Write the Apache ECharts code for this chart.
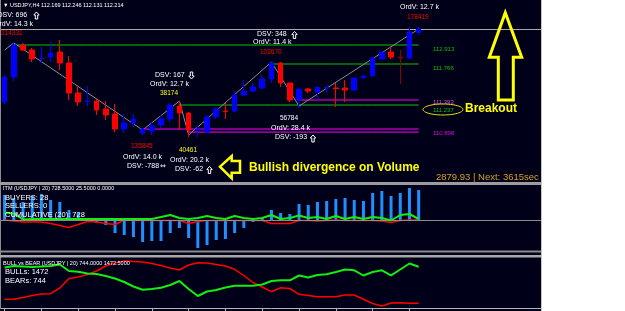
<!DOCTYPE html>
<html><head><meta charset="utf-8">
<script src="https://cdn.jsdelivr.net/npm/echarts@6/dist/echarts.min.js"></script>
<style>html,body{margin:0;padding:0;background:#fff}#c{width:625px;height:311px}</style>
</head><body><div id="c"></div>
<script>
// ---------- DATA ----------
const candleOpen  = [111.279,111.599,112.009,111.945,111.836,111.855,111.919,111.779,111.395,111.285,111.292,111.190,111.126,110.934,111.011,110.883,110.908,110.985,111.062,111.228,111.139,110.927,110.895,111.087,111.164,111.164,111.369,111.420,111.459,111.574,111.779,111.523,111.305,111.446,111.407,111.459,111.459,111.459,111.433,111.587,111.612,111.830,111.919,111.855,111.843,112.169];
const candleClose = [111.599,112.009,111.945,111.830,111.843,111.907,111.779,111.395,111.279,111.292,111.177,111.113,110.934,111.011,111.062,110.934,110.972,111.062,111.241,111.139,110.921,110.934,111.087,111.190,111.158,111.369,111.420,111.471,111.574,111.779,111.523,111.305,111.446,111.420,111.471,111.465,111.450,111.433,111.587,111.612,111.843,111.919,111.855,111.843,112.175,112.214];
const candleLow   = [111.254,111.548,111.932,111.791,111.779,111.791,111.689,111.305,111.228,111.228,111.113,111.049,110.895,110.883,110.959,110.857,110.857,110.947,111.023,110.921,110.831,110.831,110.883,111.062,111.062,111.151,111.356,111.407,111.446,111.523,111.471,111.279,111.203,111.395,111.305,111.395,111.215,111.279,111.420,111.587,111.612,111.830,111.830,111.510,111.830,112.131];
const candleHigh  = [111.625,112.035,112.035,111.971,111.983,112.047,112.073,111.868,111.484,111.484,111.318,111.292,111.254,111.126,111.126,110.947,111.023,111.113,111.267,111.292,111.151,110.985,111.113,111.215,111.267,111.420,111.561,111.523,111.625,111.791,111.791,111.523,111.446,111.459,111.471,111.497,111.523,111.561,111.587,111.625,111.855,111.919,111.996,111.945,112.239,112.246];
const lastPrice = 112.214;
// ZigZag pivots: [candle index, price]
const zigzag = [[0,111.945],[1,112.035],[15,110.921],[19,111.292],[20,110.857],[29,111.791],[32,111.228],[45,112.214]];
// horizontal levels: price, first & last candle index
const levelGreen = [[112.009,1,45],[111.766,29,45],[111.241,19,45]];
const levelMagenta = [[111.305,32,45],[110.934,15,45],[110.895,20,45]];
// ITM indicator
const itmBars  = [25,22,18,24,26,20,18,10,7,0,-3,-5,-13,-15,-17,-22,-21,-21,-13,-8,-18,-28,-25,-20,-19,-13,-8,-2,2,10,7,6,16,15,18,19,21,22,20,19,27,29,24,27,32,30];
const itmGreen = [7.5,6.5,0.5,1,1,1,1,1,1,1,1,1,1,1,1,1,1,3,5,2,1,2,4,2,1,4,2,1,2,5,1,2,4.5,2,3,1,4,1,3,1,3,2,-0.5,5,6,1];
const itmRed   = [0,-1,-2,-2,-2,-3.5,-5.5,-7.5,-4.5,-1.5,-2,-3.5,-4.5,0,-0.5,-0.5,-0.5,-0.5,-0.5,-0.5,-3.5,-1.5,-0.5,-0.5,-0.5,-0.5,-0.5,-0.5,-0.5,-3.5,-3.5,-3.5,-0.5,-0.5,-1,-0.5,0,-0.5,-0.5,-0.5,-0.5,-1,-2.5,-0.5,0,0];
// Bull vs Bear indicator
const bulls = [40.5,42,41.5,41,41.5,42,43.5,37,36.3,34.5,34,32,29.5,26,21.5,18.3,19,20.3,23,27,19,12,16.5,18,20.5,22.3,22.3,22.3,23.5,27,27.8,27.7,32.5,30.5,33,33.7,36,38.5,37.7,32.5,36,37.7,32.7,38.5,44.5,41.3];
const bears = [8.7,8.7,10.5,12.5,14,14.3,20,29.5,31,33.5,37,42,45,47,46.5,46,44.5,42.5,40,38,43,45.3,45,43.5,42,38.7,32.5,25.5,21,16.3,20.3,19.5,13.7,12.5,11.2,11.3,11.3,13,13,8.7,4.5,2,5,5.3,4.7,4.7];
const SLOTS = 59;

// ---------- BUILD ----------
const cats = Array.from({length: SLOTS}, (_, i) => 'b' + i);
const candles = candleOpen.map((o, i) => {
  const item = {value: [o, candleClose[i], candleLow[i], candleHigh[i]]};
  if (i === 43) item.itemStyle = {color0: '#8b0000', borderColor0: '#8b0000'};
  return item;
});
function levelSeries(lv, color) {
  const [price, a, b] = lv;
  return {type: 'line', xAxisIndex: 0, yAxisIndex: 0, symbol: 'none', silent: true,
    lineStyle: {color, width: 1}, z: 3,
    data: cats.map((c, i) => (i >= a && i <= b) ? price : null)};
}
const FONT = '"Liberation Sans", Arial, sans-serif';
const G = [];
function T(text, x, y, fill, size, weight) {
  G.push({type: 'text', x, y, z: 100, silent: true,
    style: {text, fill, font: (weight || 'normal') + ' ' + size + 'px ' + FONT,
      verticalAlign: 'middle', textVerticalAlign: 'middle', align: 'left', textAlign: 'left'}});
}
// small hollow arrow (up or down), centred at x,y
function A(dir, x, y) {
  const s = dir === 'up' ? 1 : -1;
  const pts = [[0,-3.5],[2.7,-0.5],[1.2,-0.5],[1.2,3.5],[-1.2,3.5],[-1.2,-0.5],[-2.7,-0.5]]
    .map(p => [x + p[0], y + s * p[1]]);
  G.push({type: 'polygon', z: 100, silent: true, shape: {points: pts},
    style: {fill: 'none', stroke: '#ffffff', lineWidth: 1}});
}
function R(x, y, w, h, fill, z) {
  G.push({type: 'rect', z: z || 90, silent: true, shape: {x, y, width: w, height: h}, style: {fill}});
}
// panel borders / separators
R(0, 0, 1, 309, '#8c8c8c');
R(0, 182, 542, 3, '#9c9c9c');
R(0, 250.5, 542, 2, '#8a8a8a');
R(0, 255, 542, 2.5, '#a8a8a8');
R(542, 0, 83, 311, '#ffffff', 200);
R(541, 0, 1, 311, '#c8c8c8', 201);

// main panel texts
T('\u25BC USDJPY,H4 112.169 112.246 112.131 112.214', 3, 5.5, '#ffffff', 5.5);
T('DSV: 696', -2.5, 15, '#ffffff', 7); A('up', 36.5, 15.5);
T('OrdV: 14.3 k', -6, 24.5, '#ffffff', 7);
T('214331', 1, 33.5, '#ff0000', 6.5);
T('DSV: 167', 155, 75.2, '#ffffff', 7); A('down', 191.5, 75.5);
T('OrdV: 12.7 k', 150, 84.5, '#ffffff', 7);
T('38174', 160, 93.3, '#ffff00', 6.5);
T('DSV: 348', 257, 34.2, '#ffffff', 7); A('up', 294.5, 35);
T('OrdV: 11.4 k', 253, 42.5, '#ffffff', 7);
T('102670', 260, 52.5, '#ff0000', 6.5);
T('OrdV: 12.7 k', 400, 7.5, '#ffffff', 7);
T('178419', 407, 17.5, '#ff0000', 6.5);
T('135845', 131, 146, '#ff0000', 6.5);
T('OrdV: 14.0 k', 123, 157.5, '#ffffff', 7);
T('DSV: -788', 127, 166.5, '#ffffff', 7);
G.push({type: 'text', x: 160, y: 166.5, z: 100, silent: true,
  style: {text: '\u21D4', fill: '#ffffff', font: '7px "DejaVu Sans", sans-serif', verticalAlign: 'middle', textVerticalAlign: 'middle'}});
T('40461', 179, 150.5, '#ffff00', 6.5);
T('OrdV: 20.2 k', 170, 160.5, '#ffffff', 7);
T('DSV: -62', 175, 169.5, '#ffffff', 7); A('up', 209.5, 170);
T('56784', 280, 118.5, '#ffffff', 6.5);
T('OrdV: 28.4 k', 271, 128.5, '#ffffff', 7);
T('DSV: -193', 275, 137.5, '#ffffff', 7); A('up', 313, 138.5);
T('112.913', 433, 49, '#00c000', 6);
T('111.766', 433, 68.5, '#00c000', 6);
T('111.393', 433, 102.5, '#e040e0', 6);
T('111.237', 433, 110, '#00c000', 6);
T('110.898', 433, 133, '#e000e0', 6);
T('Breakout', 465, 108.5, '#ffff00', 12, 'bold');
T('Bullish divergence on Volume', 249, 168, '#ffff00', 12, 'bold');
T('2879.93 | Next: 3615sec', 436, 177.5, '#d4a020', 9.5);
// indicator texts
T('ITM (USDJPY | 20) 728.5000 25.5000 0.0000', 3, 188.3, '#ffffff', 5.5);
T('BUYERS: 28', 5, 198, '#ffffff', 7.5);
T('SELLERS: 0', 5, 206, '#ffffff', 7.5);
T('CUMULATIVE (20): 728', 5, 214.5, '#ffffff', 7.5);
T('BULL vs BEAR (USDJPY | 20) 744.0000 1472.5000', 3, 263, '#ffffff', 5.5);
T('BULLs: 1472', 5, 272, '#ffffff', 7.5);
T('BEARs: 744', 5, 280.5, '#ffffff', 7.5);
// yellow annotation shapes
G.push({type: 'polygon', z: 100, silent: true,
  shape: {points: [[505.3,12.7],[521.7,57.3],[513.3,57.3],[513.3,100],[498.3,100],[498.3,57.3],[489.3,57.3]]},
  style: {fill: 'none', stroke: '#ffff00', lineWidth: 3}});
G.push({type: 'polygon', z: 100, silent: true,
  shape: {points: [[220,166.7],[231.7,156],[231.7,161],[240,161],[240,172.7],[231.7,172.7],[231.7,178.3]]},
  style: {fill: 'none', stroke: '#ffff00', lineWidth: 2.5}});
const ell = [];
for (let k = 0; k < 48; k++) { const t = k / 48 * Math.PI * 2; ell.push([443 + 20 * Math.cos(t), 109.5 + 5.5 * Math.sin(t)]); }
G.push({type: 'polygon', z: 100, silent: true, shape: {points: ell}, style: {fill: 'none', stroke: '#e0e000', lineWidth: 1}});

const gridBase = {left: -2.875, width: 545.75};
const option = {
  animation: false,
  backgroundColor: '#000019',
  grid: [
    Object.assign({top: 0, height: 182}, gridBase),
    Object.assign({top: 185, height: 66}, gridBase),
    Object.assign({top: 258, height: 50}, gridBase)
  ],
  xAxis: [
    {type: 'category', gridIndex: 0, data: cats, show: false},
    {type: 'category', gridIndex: 1, data: cats, show: false},
    {type: 'category', gridIndex: 2, data: cats,
      axisLine: {show: true, lineStyle: {color: '#b4b4b4', width: 1}},
      axisTick: {show: true, alignWithLabel: true, length: 3, lineStyle: {color: '#b4b4b4'},
        interval: (i) => i % 4 === 0 && i < candleOpen.length},
      axisLabel: {show: false}, splitLine: {show: false}}
  ],
  yAxis: [
    {type: 'value', gridIndex: 0, min: 110.256, max: 112.585, show: false, splitLine: {show: false}},
    {type: 'value', gridIndex: 1, min: -31, max: 35, show: false, splitLine: {show: false}},
    {type: 'value', gridIndex: 2, min: 0, max: 50, show: false, splitLine: {show: false}}
  ],
  series: [
    ...levelGreen.map(l => levelSeries(l, '#00c800')),
    ...levelMagenta.map(l => levelSeries(l, '#ff00ff')),
    {type: 'line', xAxisIndex: 0, yAxisIndex: 0, data: zigzag, symbol: 'none', silent: true, z: 4,
      lineStyle: {color: '#8c8c8c', width: 1}},
    {type: 'candlestick', xAxisIndex: 0, yAxisIndex: 0, data: candles, barWidth: 5, z: 5,
      itemStyle: {color: '#0000ff', color0: '#ff0000', borderColor: '#0000ff', borderColor0: '#ff0000', borderWidth: 1},
      markLine: {silent: true, symbol: 'none', label: {show: false},
        lineStyle: {color: '#a8a8a8', width: 1, type: 'solid'}, data: [{yAxis: lastPrice}]}},
    {type: 'bar', xAxisIndex: 1, yAxisIndex: 1, data: itmBars, barWidth: 3, itemStyle: {color: '#1e90ff'},
      markLine: {silent: true, symbol: 'none', label: {show: false},
        lineStyle: {color: '#8c8c8c', width: 1, type: 'solid'}, data: [{yAxis: 0}]}},
    {type: 'line', xAxisIndex: 1, yAxisIndex: 1, data: itmRed, symbol: 'none', silent: true, z: 4,
      lineStyle: {color: '#ff0000', width: 1.5}},
    {type: 'line', xAxisIndex: 1, yAxisIndex: 1, data: itmGreen, symbol: 'none', silent: true, z: 5,
      lineStyle: {color: '#11ee11', width: 2}},
    {type: 'line', xAxisIndex: 2, yAxisIndex: 2, data: bears, symbol: 'none', silent: true,
      lineStyle: {color: '#ff0000', width: 1.5}},
    {type: 'line', xAxisIndex: 2, yAxisIndex: 2, data: bulls, symbol: 'none', silent: true,
      lineStyle: {color: '#11ee11', width: 2}}
  ],
  graphic: {elements: G}
};
const chart = echarts.init(document.getElementById('c'));
chart.setOption(option);
</script>
</body></html>
